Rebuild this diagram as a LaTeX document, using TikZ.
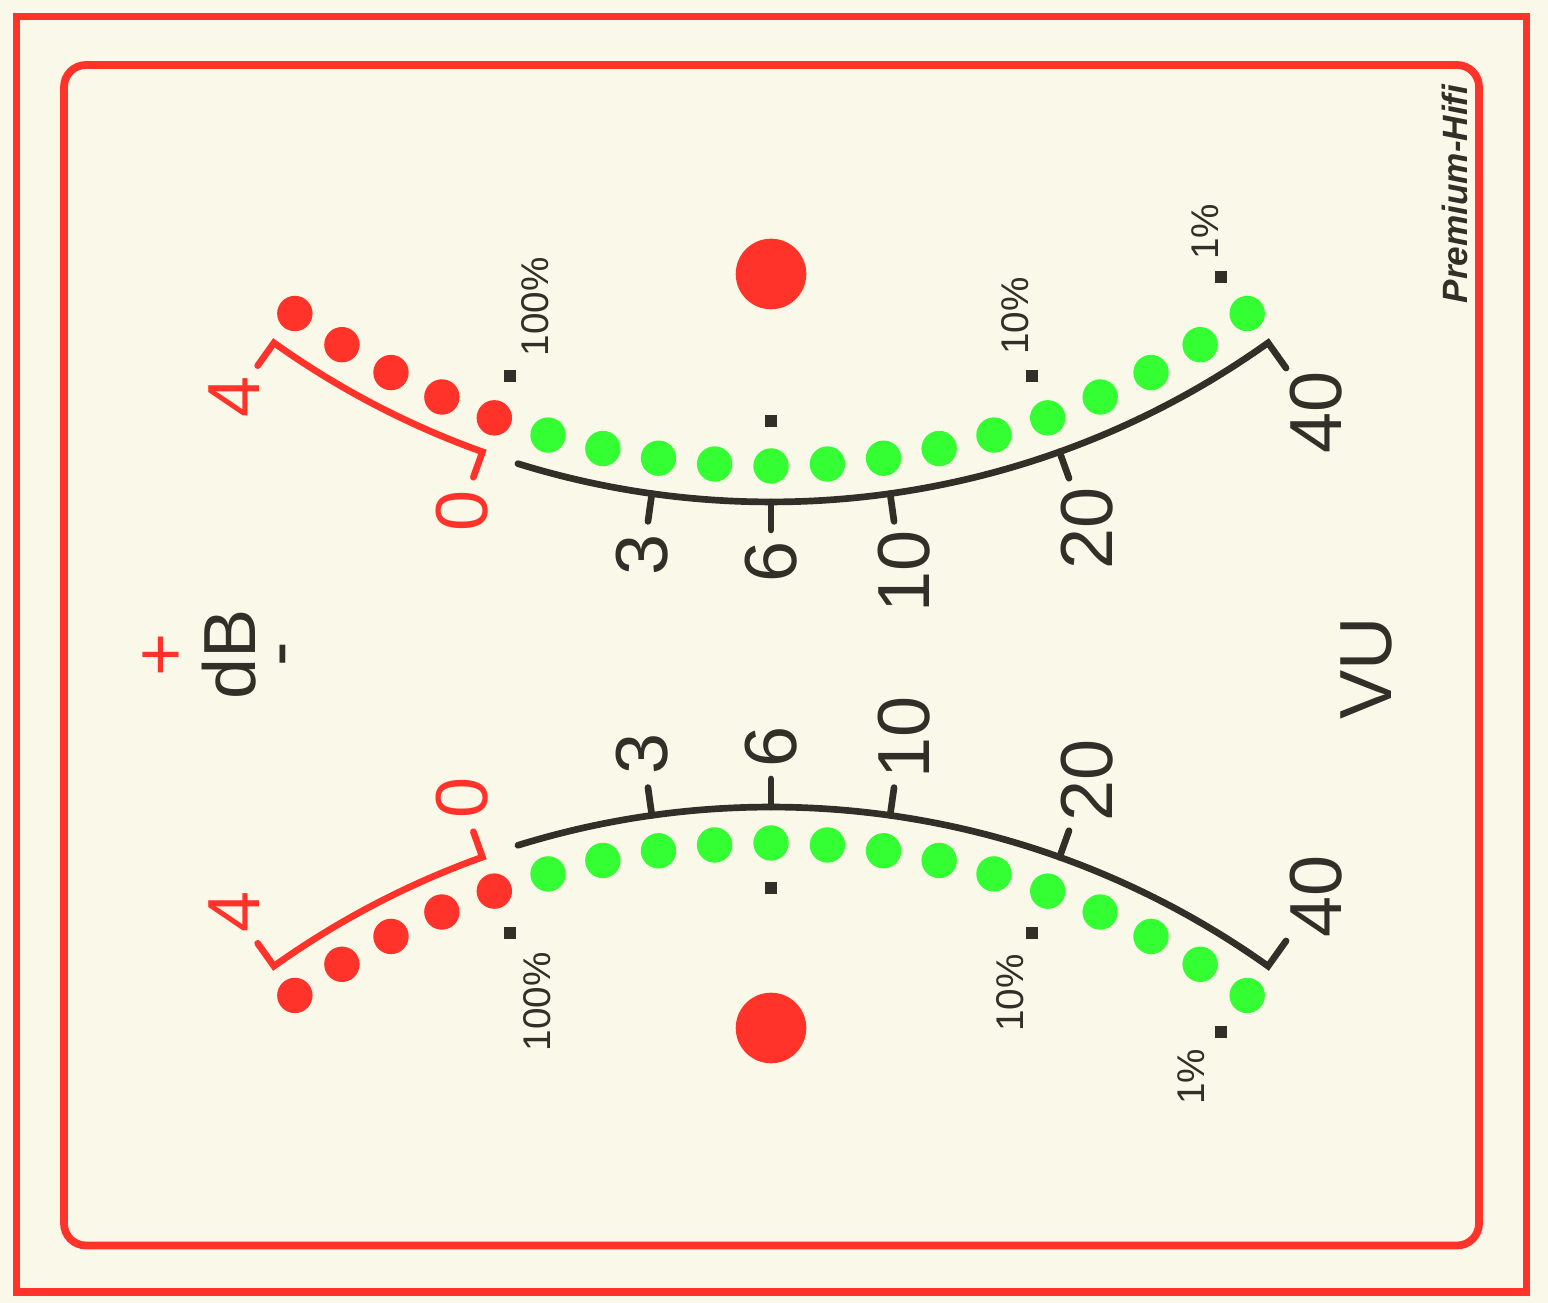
\documentclass[tikz,border=0pt]{standalone}
\usepackage{fontspec}
\setmainfont{Liberation Sans}
\definecolor{vured}{RGB}{255,51,41}
\definecolor{vugreen}{RGB}{51,255,51}
\definecolor{ink}{RGB}{50,47,40}
\definecolor{cream}{RGB}{250,249,233}
\tikzset{
  scaleline/.style={ink, line width=1.9pt, line cap=round},
  redline/.style={vured, line width=1.9pt, line cap=round},
  num/.style={ink, rotate=90, font=\fontsize{21}{24}\selectfont, inner sep=0pt},
  pct/.style={ink, rotate=90, font=\fontsize{11}{13}\selectfont, inner sep=0pt},
  dotsq/.style={fill=ink, minimum size=0.12cm, inner sep=0pt},
}

\begin{document}
\begin{tikzpicture}
\fill[cream] (0,-6.485) rectangle (15.48,6.545);
\useasboundingbox (0,-6.485) rectangle (15.48,6.545);
%框
\draw[vured, line width=2pt] (0.165,-6.375) rectangle (15.265,6.38);
\draw[vured, line width=2.2pt, rounded corners=0.22cm] (0.64,-5.91) rectangle (14.79,5.895);
%上下两表
\foreach \s/\cy/\m in {-1/10.085/up, 1/-10.085/lo}{
  \coordinate (c\m) at (7.71,\cy);
  \foreach \i in {0,...,18}{
    \pgfmathsetmacro\a{\s*(125.5-\i*71/18)}
    \ifnum\i<5
      \fill[vured] ([shift={(\a:8.2)}]c\m) circle (0.177);
    \else
      \fill[vugreen] ([shift={(\a:8.2)}]c\m) circle (0.177);
    \fi
  }
  \draw[redline] ([shift={(\s*125.5:8.84)}]c\m) -- ([shift={(\s*125.5:8.56)}]c\m)
    arc[start angle=\s*125.5, end angle=\s*109.7, radius=8.56] -- ([shift={(\s*109.7:8.83)}]c\m);
  \draw[scaleline] ([shift={(\s*107.2:8.56)}]c\m)
    arc[start angle=\s*107.2, end angle=\s*54.5, radius=8.56] -- ([shift={(\s*54.5:8.87)}]c\m);
  \foreach \a in {98,90,82,70.3}
    \draw[scaleline] ([shift={(\s*\a:8.56)}]c\m) -- ([shift={(\s*\a:8.84)}]c\m);
  \foreach \a [count=\k] in {109.72,90,70.3,54.5}
    \node[dotsq] (sq\k\m) at ([shift={(\s*\a:7.75)}]c\m) {};
  \foreach \t/\a/\r in {3/98.1/9.18, 6/90/9.16, 10/81.8/9.355, 20/70.28/9.38, 40/54.6/9.405}
    \node[num] (n\t\m) at ([shift={(\s*\a:\r)}]c\m) {\t};
  \node[num, vured] (r0\m) at ([shift={(\s*109.64:9.19)}]c\m) {0};
  \node[num, vured] (r4\m) at ([shift={(\s*125.56:9.23)}]c\m) {4};
}
%百分比
\node[pct] (p100up) at (5.35,3.475) {100\%};
\node[pct] (p10up) at (10.15,3.385) {10\%};
\node[pct] (p1up) at (12.05,4.225) {1\%};
\node[pct] (p100lo) at (5.37,-3.475) {100\%};
\node[pct] (p10lo) at (10.10,-3.385) {10\%};
\node[pct] (p1lo) at (11.91,-4.225) {1\%};
%灯
\fill[vured] (7.71,3.805) circle (0.353);
\fill[vured] (7.71,-3.735) circle (0.353);
%字
\node[num, vured] (plus) at (1.645,0) {+};
\node[num] (db) at (2.29,0) {dB};
\node[num] (minus) at (2.91,0) {-};
\node[num] (vu) at (13.66,-0.135) {VU};
\node[ink, rotate=90, font=\fontsize{10}{12}\selectfont\bfseries\itshape, inner sep=0pt] (brand) at (14.55,4.605) {Premium-Hifi};
\end{tikzpicture}
\end{document}
